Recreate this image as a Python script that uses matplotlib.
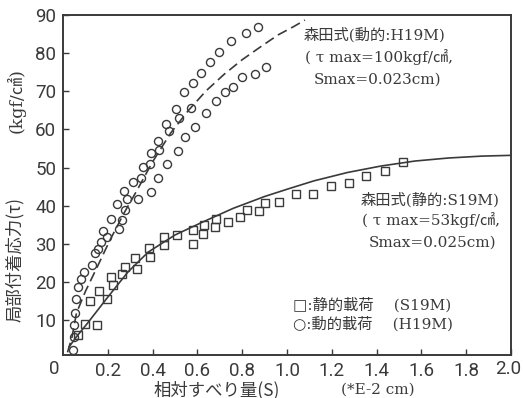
import matplotlib
matplotlib.use("Agg")
import matplotlib.pyplot as plt

# ---------------- data ----------------
# dynamic loading (H19M) - circles
dyn_s = [0.046, 0.048, 0.050, 0.055, 0.058, 0.068, 0.082, 0.095, 0.130, 0.145,
         0.158, 0.168, 0.177, 0.196, 0.214, 0.251, 0.262, 0.277, 0.241, 0.286,
         0.274, 0.333, 0.311, 0.348, 0.393, 0.356, 0.390, 0.423, 0.393, 0.430,
         0.425, 0.464, 0.512, 0.474, 0.462, 0.545, 0.590, 0.504, 0.519, 0.571,
         0.542, 0.582, 0.618, 0.655, 0.698, 0.750, 0.815, 0.869, 0.640, 0.685,
         0.723, 0.757, 0.800, 0.858, 0.906]
dyn_tau = [2.0, 5.4, 8.6, 11.8, 15.5, 18.6, 20.7, 22.7, 24.5, 27.5,
           28.5, 30.5, 33.4, 31.8, 36.5, 34.0, 36.3, 38.8, 40.5, 41.8,
           43.8, 41.8, 46.2, 47.3, 43.5, 50.1, 51.0, 47.3, 53.7, 54.6,
           57.0, 51.0, 54.3, 59.7, 61.4, 58.1, 60.7, 65.3, 63.0, 65.6,
           69.7, 72.2, 74.9, 77.7, 80.4, 83.2, 85.4, 87.0, 64.4, 67.5,
           69.7, 71.1, 73.8, 74.6, 76.4]

# static loading (S19M) - squares
sta_s = [0.068, 0.100, 0.150, 0.120, 0.160, 0.196, 0.212, 0.224, 0.262, 0.278,
         0.323, 0.330, 0.382, 0.388, 0.450, 0.450, 0.510, 0.580, 0.580, 0.625,
         0.631, 0.680, 0.683, 0.735, 0.790, 0.820, 0.876, 0.903, 0.966, 1.040,
         1.115, 1.196, 1.275, 1.353, 1.437, 1.517]
sta_tau = [6.0, 8.9, 8.8, 15.0, 17.6, 15.6, 21.4, 19.3, 22.1, 24.0,
           26.2, 23.3, 29.0, 26.4, 31.8, 29.6, 32.2, 33.5, 30.0, 32.5,
           34.9, 34.4, 36.6, 35.7, 36.9, 38.9, 38.6, 40.7, 40.9, 43.1,
           43.1, 45.1, 46.0, 47.9, 49.1, 51.5]

# Morita formula curves
curve_dyn_s = [0.02, 0.04, 0.06, 0.10, 0.155, 0.21, 0.27, 0.33, 0.40, 0.48,
               0.56, 0.64, 0.72, 0.80, 0.88, 0.96, 1.03, 1.08]
curve_dyn_tau = [1.5, 5.5, 11.8, 17.5, 24.2, 31.0, 37.8, 44.0, 51.5, 59.0,
                 65.0, 70.2, 74.5, 78.3, 81.6, 84.8, 87.0, 88.7]
curve_sta_s = [0.028, 0.06, 0.11, 0.20, 0.29, 0.38, 0.50, 0.62, 0.76, 0.90,
               1.00, 1.12, 1.27, 1.42, 1.57, 1.72, 1.87, 2.00]
curve_sta_tau = [3.0, 5.6, 9.2, 16.0, 22.6, 27.8, 32.3, 35.6, 39.3, 42.4,
                 44.3, 46.5, 48.7, 50.4, 51.7, 52.5, 53.0, 53.2]

xticks = [0.2, 0.4, 0.6, 0.8, 1.0, 1.2, 1.4, 1.6, 1.8, 2.0]
xticklabels = ["0.2", "0.4", "0.6", "0.8", "1.0", "1.2", "1.4", "1.6", "1.8", "2.0"]
yticks = [10, 20, 30, 40, 50, 60, 70, 80, 90]

# ---------------- drawing ----------------
INK = "#3a3a3a"
JP = ["DejaVu Serif", "Noto Sans CJK JP"]
JP_SANS = ["Noto Sans CJK JP", "DejaVu Sans"]
TICKFONT = dict(family="Roboto", weight="normal", size=13.5)

fig = plt.figure(figsize=(5.23, 3.98), dpi=100)
ax = fig.add_axes([0.1205, 0.108, 0.8565, 0.854])

ax.plot(curve_dyn_s, curve_dyn_tau, color=INK, lw=1.2, ls=(0, (6, 3)))
ax.plot(curve_sta_s, curve_sta_tau, color=INK, lw=1.2)
ax.plot(dyn_s, dyn_tau, ls="none", marker="o", ms=5.8, mfc="none",
        mec=INK, mew=1.0)
ax.plot(sta_s, sta_tau, ls="none", marker="s", ms=5.8, mfc="none",
        mec=INK, mew=1.0)

ax.set_xlim(0, 2.0)
ax.set_ylim(0.8, 90)
ax.set_xticks(xticks)
# last label is drawn separately (slightly inset so it is not clipped)
ax.set_xticklabels(xticklabels[:-1] + [""])
ax.set_yticks(yticks)
for sp in ax.spines.values():
    sp.set_linewidth(1.4)
    sp.set_color(INK)
ax.tick_params(direction="in", length=4, width=1.0, color=INK,
               labelcolor=INK, pad=5)
for lab in ax.get_xticklabels() + ax.get_yticklabels():
    lab.set_family(TICKFONT["family"])
    lab.set_weight(TICKFONT["weight"])
    lab.set_size(TICKFONT["size"])

ax.text(xticks[-1] - 0.012, -3.0, xticklabels[-1], ha="center", va="center",
        color=INK, clip_on=False, **TICKFONT)
# origin label
ax.text(-0.04, -3.0, "0", ha="center", va="center", color=INK,
        clip_on=False, **TICKFONT)

# annotations
fs = 11
ax.text(1.073, 84.8, "森田式(動的:H19M)", family=JP, fontsize=fs, color=INK,
        ha="left", va="center")
ax.text(1.082, 79.0, "( τ max=100kgf/㎠,", family=JP, fontsize=fs, color=INK,
        ha="left", va="center")
ax.text(1.118, 73.0, "Smax=0.023cm)", family=JP, fontsize=fs, color=INK,
        ha="left", va="center")

ax.text(1.327, 41.5, "森田式(静的:S19M)", family=JP, fontsize=fs, color=INK,
        ha="left", va="center")
ax.text(1.336, 36.2, "( τ max=53kgf/㎠,", family=JP, fontsize=fs, color=INK,
        ha="left", va="center")
ax.text(1.363, 30.2, "Smax=0.025cm)", family=JP, fontsize=fs, color=INK,
        ha="left", va="center")

ax.text(1.029, 13.9, "□:静的載荷　 (S19M)", family=JP, fontsize=fs, color=INK,
        ha="left", va="center")
ax.text(1.029, 8.9, "○:動的載荷　 (H19M)", family=JP, fontsize=fs, color=INK,
        ha="left", va="center")

# axis labels
fig.text(217 / 523, 1 - 390 / 398, "相対すべり量(S)", family=JP_SANS,
         fontsize=12.5, color=INK, ha="center", va="center")
fig.text(378 / 523, 1 - 390 / 398, "(*E-2 cm)", family=JP, fontsize=11,
         color=INK, ha="center", va="center")
fig.text(15 / 523, 1 - 259 / 398, "局部付着応力(τ)", family=JP_SANS,
         fontsize=12.5, color=INK, ha="center", va="center", rotation=90)
fig.text(16 / 523, 1 - 101 / 398, "(kgf/㎠)", family=JP, fontsize=12.5,
         color=INK, ha="center", va="center", rotation=90)

fig.savefig("out.png", dpi=100)
